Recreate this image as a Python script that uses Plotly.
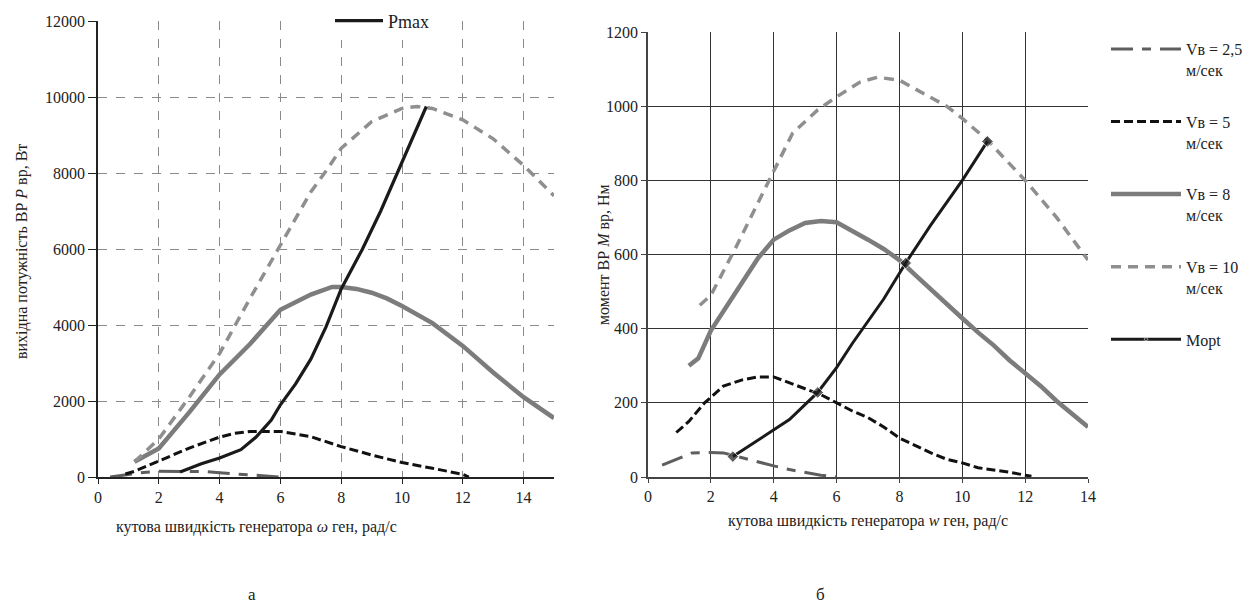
import plotly.graph_objects as go

W, H = 1256, 603

# ---------------- Chart "а": output power of wind turbine ----------------
p25_x = [0.4, 1.0, 1.5, 2.0, 2.5, 3.0, 3.5, 4.0, 4.5, 5.0, 5.5, 6.0]
p25_y = [0, 60, 120, 150, 150, 150, 145, 110, 85, 55, 30, 0]

p5_x = [0.9, 1.2, 2.0, 3.0, 4.0, 4.5, 5.0, 6.0, 7.0, 8.0, 9.0, 10.0, 11.0, 12.0, 12.2]
p5_y = [80, 150, 420, 760, 1050, 1150, 1200, 1200, 1060, 800, 580, 380, 230, 70, 0]

p8_x = [1.2, 2.0, 3.0, 4.0, 5.0, 6.0, 7.0, 7.7, 8.0, 8.5, 9.0, 9.5, 10.0, 11.0, 12.0, 13.0, 14.0, 15.0]
p8_y = [400, 750, 1700, 2700, 3500, 4400, 4800, 5000, 5000, 4950, 4850, 4700, 4500, 4050, 3450, 2750, 2100, 1550]

p10_x = [1.2, 2.0, 3.0, 4.0, 5.0, 6.0, 7.0, 7.5, 8.0, 9.0, 10.0, 10.5, 11.0, 12.0, 13.0, 14.0, 15.0]
p10_y = [400, 1000, 2100, 3250, 4700, 6100, 7500, 8050, 8650, 9350, 9700, 9750, 9700, 9400, 8900, 8200, 7400]

pmax_x = [2.7, 3.4, 4.0, 4.7, 5.2, 5.7, 6.0, 6.5, 7.0, 7.5, 8.0, 8.7, 9.3, 9.85, 10.35, 10.8]
pmax_y = [130, 350, 500, 720, 1050, 1500, 1900, 2450, 3100, 3950, 4950, 6000, 7000, 8000, 8900, 9750]

# ---------------- Chart "б": torque of wind turbine ----------------
m25_x = [0.45, 1.0, 1.4, 2.0, 2.4, 3.0, 3.5, 4.0, 4.5, 5.0, 5.5, 6.0]
m25_y = [32, 50, 65, 66, 65, 52, 40, 30, 20, 12, 5, 0]

m5_x = [0.9, 1.3, 1.8, 2.4, 3.0, 3.5, 4.0, 4.5, 5.0, 5.5, 6.0, 6.5, 7.0, 7.5, 8.0,
        8.5, 9.0, 9.5, 10.0, 10.5, 11.0, 11.5, 12.0, 12.2]
m5_y = [120, 150, 200, 245, 262, 270, 270, 255, 238, 222, 200, 178, 160, 135, 105,
        85, 65, 48, 38, 25, 20, 13, 5, 2]

m8_x = [1.3, 1.6, 2.0, 2.5, 3.0, 3.5, 4.0, 4.5, 5.0, 5.5, 6.0, 6.5, 7.0, 7.5, 8.0,
        8.5, 9.0, 9.5, 10.0, 10.5, 11.0, 11.5, 12.0, 12.5, 13.0, 13.5, 14.0]
m8_y = [300, 320, 395, 460, 520, 590, 640, 665, 685, 690, 687, 665, 640, 615, 585,
        545, 505, 465, 428, 390, 355, 315, 280, 245, 205, 170, 135]

m10_x = [1.65, 2.0, 2.8, 3.6, 4.0, 4.6, 5.4, 6.0, 6.75, 7.3, 8.0, 9.5, 10.0, 10.8, 12.0, 13.0, 14.0]
m10_y = [463, 490, 620, 755, 827, 927, 990, 1025, 1065, 1078, 1070, 1000, 967, 908, 800, 700, 585]

mopt_x = [2.7, 3.5, 4.5, 5.4, 6.0, 6.5, 7.0, 7.5, 8.2, 9.0, 10.0, 10.8]
mopt_y = [55, 100, 155, 228, 295, 360, 420, 480, 577, 680, 800, 905]
mopt_marked = [2.7, 5.4, 8.2, 10.8]

legend_names = ["Vв = 2,5<br>м/сек", "Vв = 5<br>м/сек", "Vв = 8<br>м/сек", "Vв = 10<br>м/сек"]

FONT = "Liberation Serif, Times New Roman, serif"

s25 = dict(color="#5e5e5e", width=3, dash="22px,9px,9px,9px")
s5 = dict(color="#111111", width=3, dash="9px,4px")
s8 = dict(color="#7c7c7c", width=4.5)
s10 = dict(color="#8f8f8f", width=3.5, dash="10px,7px")

fig = go.Figure()

# Left chart traces
fig.add_trace(go.Scatter(x=p25_x, y=p25_y, mode="lines", line=s25, showlegend=False, xaxis="x", yaxis="y"))
fig.add_trace(go.Scatter(x=p5_x, y=p5_y, mode="lines", line=s5, showlegend=False, xaxis="x", yaxis="y"))
fig.add_trace(go.Scatter(x=p8_x, y=p8_y, mode="lines", line=s8, showlegend=False, xaxis="x", yaxis="y"))
fig.add_trace(go.Scatter(x=p10_x, y=p10_y, mode="lines", line=s10, showlegend=False, xaxis="x", yaxis="y"))
fig.add_trace(go.Scatter(x=pmax_x, y=pmax_y, mode="lines", name="Pmax",
                         line=dict(color="#1a1a1a", width=3.2), legend="legend2",
                         xaxis="x", yaxis="y"))

# Right chart traces
for xs, ys, st, nm in [(m25_x, m25_y, s25, legend_names[0]), (m5_x, m5_y, s5, legend_names[1]),
                       (m8_x, m8_y, s8, legend_names[2]), (m10_x, m10_y, s10, legend_names[3])]:
    fig.add_trace(go.Scatter(x=xs, y=ys, mode="lines", line=st, name=nm, legendgroup=nm,
                             xaxis="x2", yaxis="y2"))

sizes = [9 if x in mopt_marked else 0 for x in mopt_x]
fig.add_trace(go.Scatter(x=mopt_x, y=mopt_y, mode="lines+markers", name="Mopt", legendgroup="Mopt",
                         line=dict(color="#1a1a1a", width=3),
                         marker=dict(symbol="diamond", size=sizes, color="#1a1a1a"),
                         xaxis="x2", yaxis="y2"))


def px_x(p):
    return p / W


def px_y(p):
    return 1 - p / H


tickfont = dict(family=FONT, size=16, color="#222")

fig.update_layout(
    width=W, height=H,
    margin=dict(l=0, r=0, t=0, b=0),
    paper_bgcolor="white", plot_bgcolor="white",
    font=dict(family=FONT, size=16, color="#222"),
    xaxis=dict(domain=[px_x(98), px_x(554)], range=[0, 15], dtick=2, anchor="y",
               showgrid=True, gridcolor="#8a8a8a", griddash="dash", gridwidth=1,
               showline=True, linecolor="#222", linewidth=1.5, ticks="outside", ticklen=5,
               tickcolor="#222", tickfont=tickfont, zeroline=False, automargin=False),
    yaxis=dict(domain=[px_y(477), px_y(21)], range=[0, 12000], dtick=2000, anchor="x",
               tickformat="d",
               showgrid=True, gridcolor="#8a8a8a", griddash="dash", gridwidth=1,
               showline=True, linecolor="#222", linewidth=1.5, ticks="outside", ticklen=8,
               tickcolor="#222", tickfont=tickfont, zeroline=False, automargin=False),
    xaxis2=dict(domain=[px_x(648), px_x(1088)], range=[0, 14], dtick=2, anchor="y2",
                showgrid=True, gridcolor="#333", gridwidth=1.3,
                showline=True, linecolor="#444", linewidth=1.5, ticks="outside", ticklen=4,
                tickcolor="#444", tickfont=tickfont, zeroline=False, automargin=False),
    yaxis2=dict(domain=[px_y(477), px_y(32)], range=[0, 1200], dtick=200, anchor="x2",
                tickformat="d",
                showgrid=True, gridcolor="#333", gridwidth=1.3,
                showline=True, linecolor="#444", linewidth=1.5, ticks="outside", ticklen=5,
                tickcolor="#444", tickfont=tickfont, zeroline=False, automargin=False),
    legend=dict(x=px_x(1106), y=px_y(32), xanchor="left", yanchor="top",
                font=dict(family=FONT, size=16, color="#222"), tracegroupgap=28,
                itemwidth=70, valign="top", bgcolor="rgba(0,0,0,0)"),
    legend2=dict(x=px_x(330), y=px_y(21), xanchor="left", yanchor="middle",
                 font=dict(family=FONT, size=18, color="#222"), bgcolor="white",
                 itemwidth=48, borderwidth=0),
)

ann = [
    dict(text="вихідна потужність ВР <i>P</i> вр, Вт", x=px_x(22), y=px_y(252), textangle=-90, size=16),
    dict(text="кутова швидкість генератора <i>ω</i> ген, рад/с", x=px_x(256), y=px_y(527), textangle=0, size=16),
    dict(text="момент ВР <i>M</i> вр, Нм", x=px_x(604), y=px_y(255), textangle=-90, size=16),
    dict(text="кутова швидкість генератора <i>w</i> ген, рад/с", x=px_x(868), y=px_y(521), textangle=0, size=16),
    dict(text="а", x=px_x(252), y=px_y(594), textangle=0, size=17),
    dict(text="б", x=px_x(820), y=px_y(594), textangle=0, size=17),
]
for a in ann:
    fig.add_annotation(text=a["text"], x=a["x"], y=a["y"], xref="paper", yref="paper",
                       showarrow=False, textangle=a["textangle"], xanchor="center", yanchor="middle",
                       font=dict(family=FONT, size=a["size"], color="#222"))

fig.write_html("out.html")
